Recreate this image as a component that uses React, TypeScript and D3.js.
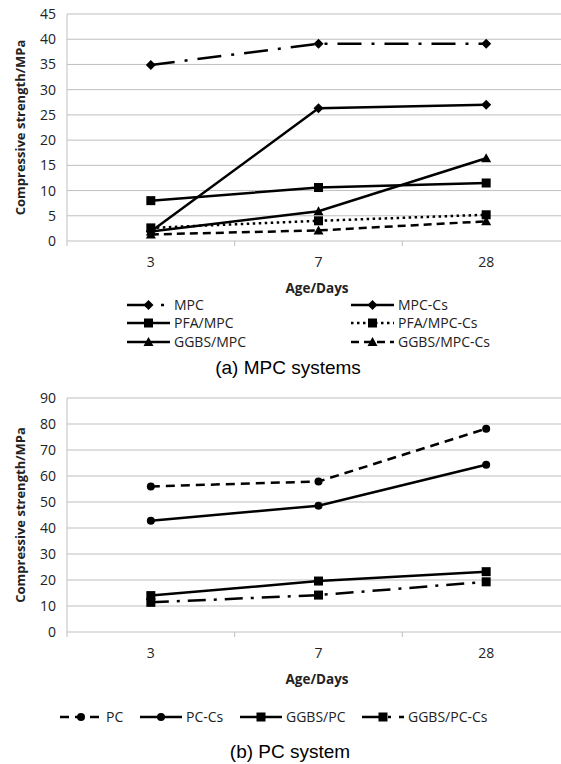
import React from "react";
import * as d3 from "d3";

const ages = ["3", "7", "28"];
const topTicks = [0, 5, 10, 15, 20, 25, 30, 35, 40, 45];
const botTicks = [0, 10, 20, 30, 40, 50, 60, 70, 80, 90];

const mpc = [34.9, 39.1, 39.1];
const mpcCs = [1.9, 26.3, 27.0];
const pfaMpc = [8.0, 10.6, 11.5];
const pfaMpcCs = [2.6, 4.0, 5.2];
const ggbsMpc = [1.9, 5.9, 16.4];
const ggbsMpcCs = [1.3, 2.1, 3.9];

const pc = [56.0, 57.9, 78.2];
const pcCs = [42.8, 48.6, 64.3];
const ggbsPc = [14.0, 19.6, 23.2];
const ggbsPcCs = [11.4, 14.2, 19.3];

type Series = { name: string; values: number[]; dash: string; marker: string };

const topSeries: Series[] = [
  { name: "MPC", values: mpc, dash: "24,10,3,10", marker: "diamond" },
  { name: "MPC-Cs", values: mpcCs, dash: "", marker: "diamond" },
  { name: "PFA/MPC", values: pfaMpc, dash: "", marker: "square" },
  { name: "PFA/MPC-Cs", values: pfaMpcCs, dash: "2.5,3.5", marker: "square" },
  { name: "GGBS/MPC", values: ggbsMpc, dash: "", marker: "triangle" },
  { name: "GGBS/MPC-Cs", values: ggbsMpcCs, dash: "8,5", marker: "triangle" },
];

const botSeries: Series[] = [
  { name: "PC", values: pc, dash: "9,6", marker: "circle" },
  { name: "PC-Cs", values: pcCs, dash: "", marker: "circle" },
  { name: "GGBS/PC", values: ggbsPc, dash: "", marker: "square" },
  { name: "GGBS/PC-Cs", values: ggbsPcCs, dash: "18,8,3,8", marker: "square" },
];

const tickFont = "'Open Sans', sans-serif";

function Marker({ type, x, y }: { type: string; x: number; y: number }) {
  if (type === "diamond") {
    const s = 5;
    return <path d={`M${x},${y - s}L${x + s},${y}L${x},${y + s}L${x - s},${y}Z`} fill="#000" />;
  }
  if (type === "square") {
    const s = 4.5;
    return <rect x={x - s} y={y - s} width={2 * s} height={2 * s} fill="#000" />;
  }
  if (type === "triangle") {
    const s = 5;
    return <path d={`M${x},${y - s}L${x + s},${y + s * 0.8}L${x - s},${y + s * 0.8}Z`} fill="#000" />;
  }
  return <circle cx={x} cy={y} r={4} fill="#000" />;
}

function Panel({
  top, bottom, max, ticks, series,
}: { top: number; bottom: number; max: number; ticks: number[]; series: Series[] }) {
  const x = d3.scaleBand<string>().domain(ages).range([67, 570]);
  const y = d3.scaleLinear().domain([0, max]).range([bottom, top]);
  const line = d3.line<number>()
    .x((_, i) => (x(ages[i]) as number) + x.bandwidth() / 2)
    .y((v) => y(v));
  return (
    <g>
      {ticks.map((t) => (
        <g key={t}>
          <line x1={67} x2={570} y1={y(t)} y2={y(t)} stroke="#bfbfbf" strokeWidth={1} />
          <text x={56} y={y(t)} dy="0.36em" textAnchor="end" fontFamily={tickFont} fontSize={14} fill="#222">{t}</text>
        </g>
      ))}
      <line x1={67} x2={67} y1={top} y2={bottom} stroke="#bfbfbf" />
      {[0, 1, 2, 3].map((i) => {
        const xx = 67 + i * x.bandwidth();
        return <line key={i} x1={xx} x2={xx} y1={bottom} y2={bottom + 5} stroke="#bfbfbf" />;
      })}
      {ages.map((a) => (
        <text key={a} x={(x(a) as number) + x.bandwidth() / 2} y={bottom + 26} textAnchor="middle" fontFamily={tickFont} fontSize={14} fill="#222">{a}</text>
      ))}
      <text x={317} y={bottom + 52} textAnchor="middle" fontFamily={tickFont} fontWeight="bold" fontSize={13.5} fill="#222">Age/Days</text>
      <text transform={`translate(25,${(top + bottom) / 2}) rotate(-90)`} textAnchor="middle" fontFamily={tickFont} fontWeight="bold" fontSize={13} fill="#222">Compressive strength/MPa</text>
      {series.map((s) => (
        <g key={s.name}>
          <path d={line(s.values) || ""} fill="none" stroke="#000" strokeWidth={2.5} strokeDasharray={s.dash || undefined} />
          {s.values.map((v, i) => (
            <Marker key={i} type={s.marker} x={(x(ages[i]) as number) + x.bandwidth() / 2} y={y(v)} />
          ))}
        </g>
      ))}
    </g>
  );
}

function LegendItem({ s, x, y, w }: { s: Series; x: number; y: number; w: number }) {
  return (
    <g>
      <line x1={x} x2={x + w} y1={y} y2={y} stroke="#000" strokeWidth={2.5} strokeDasharray={s.dash || undefined} />
      <Marker type={s.marker} x={x + w / 2} y={y} />
      <text x={x + w + 4} y={y} dy="0.36em" fontFamily={tickFont} fontSize={14} fill="#222">{s.name}</text>
    </g>
  );
}

export default function App() {
  const topLegendPos = [
    [127, 305], [351, 305], [127, 323], [351, 323], [127, 342], [351, 342],
  ];
  const botLegendX = [60, 140, 240, 362];
  return (
    <svg width={561} height={764} style={{ position: "absolute", left: 0, top: 0, background: "#fff" }}>
      <rect width={561} height={764} fill="#fff" />
      <Panel top={14} bottom={241} max={45} ticks={topTicks} series={topSeries} />
      {topSeries.map((s, i) => (
        <LegendItem key={s.name} s={s} x={topLegendPos[i][0]} y={topLegendPos[i][1]} w={43} />
      ))}
      <text x={288} y={374} textAnchor="middle" fontFamily="'Liberation Sans', Arial, sans-serif" fontSize={19} fill="#000">(a) MPC systems</text>
      <Panel top={398} bottom={632} max={90} ticks={botTicks} series={botSeries} />
      {botSeries.map((s, i) => (
        <LegendItem key={s.name} s={s} x={botLegendX[i]} y={717} w={42} />
      ))}
      <text x={290} y={758} textAnchor="middle" fontFamily="'Liberation Sans', Arial, sans-serif" fontSize={19} fill="#000">(b) PC system</text>
    </svg>
  );
}
